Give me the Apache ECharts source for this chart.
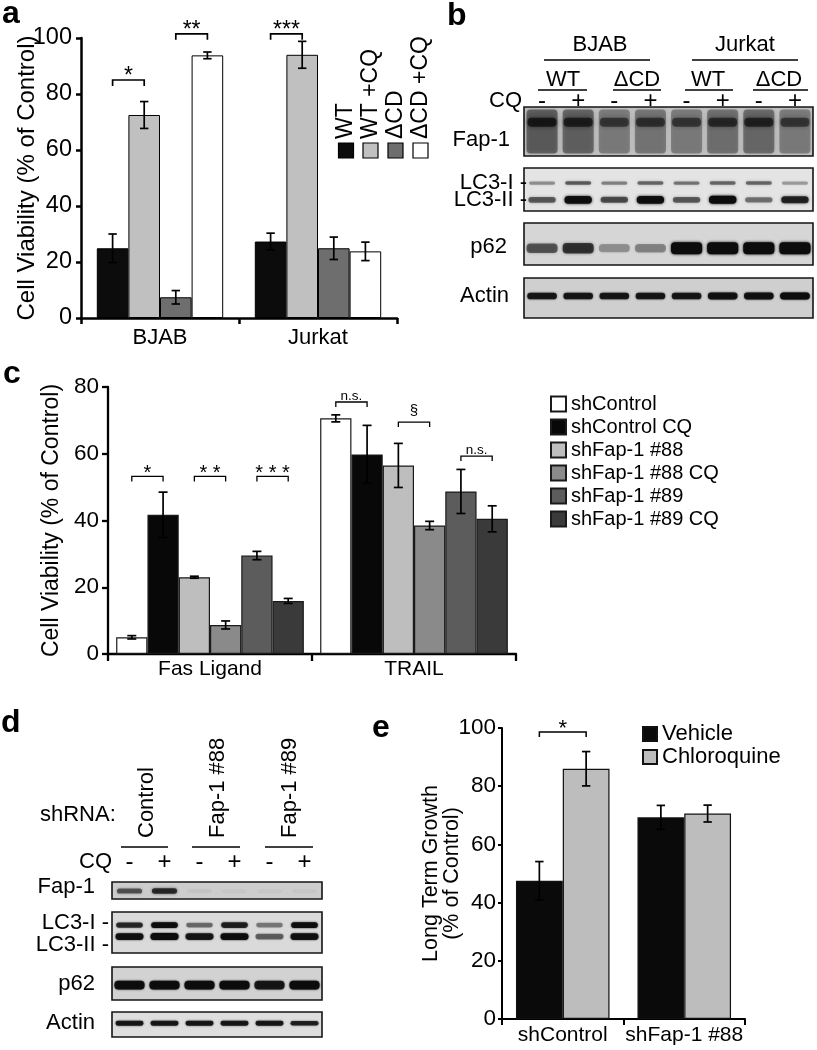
<!DOCTYPE html>
<html><head><meta charset="utf-8">
<script src="https://cdn.jsdelivr.net/npm/echarts@6/dist/echarts.min.js"></script>
<style>html,body{margin:0;padding:0;background:#fff}#c{width:817px;height:1050px}</style>
</head><body><div id="c"></div>
<script>
// ---------------- DATA ----------------
// Panel a
const aCategories = ['BJAB', 'Jurkat'];
const aNames = ['WT', 'WT +CQ', 'ΔCD', 'ΔCD +CQ'];
const aWT = [24.9, 27.3];
const aWTCQ = [72.5, 94.0];
const aDCD = [7.4, 24.9];
const aDCDCQ = [93.8, 23.8];
const aWTErr = [5.1, 3.0];
const aWTCQErr = [4.8, 4.8];
const aDCDErr = [2.4, 4.0];
const aDCDCQErr = [1.2, 3.3];
const aTicks = [0, 20, 40, 60, 80, 100];
const aSig = [[0, 0, 1, 85, '*'], [0, 2, 3, 101.5, '**'], [1, 0, 1, 101.5, '***']];

// Panel b (western blot band intensities, 0..1)
const bLanes = ['-', '+', '-', '+', '-', '+', '-', '+'];
const bFap1 = [0.85, 0.8, 0.6, 0.65, 0.6, 0.7, 0.75, 0.6];
const bLC3I = [0.35, 0.55, 0.4, 0.5, 0.45, 0.5, 0.5, 0.3];
const bLC3II = [0.55, 0.95, 0.6, 0.95, 0.55, 1.0, 0.45, 0.8];
const bP62 = [0.55, 0.7, 0.3, 0.35, 1.0, 1.0, 1.0, 1.0];
const bActin = [0.85, 0.85, 0.85, 0.85, 0.85, 0.9, 0.9, 1.0];

// Panel c
const cCategories = ['Fas Ligand', 'TRAIL'];
const cNames = ['shControl', 'shControl CQ', 'shFap-1 #88', 'shFap-1 #88 CQ', 'shFap-1 #89', 'shFap-1 #89 CQ'];
const cShControl = [5.0, 70.6];
const cShControlCQ = [41.7, 59.8];
const cSh88 = [23.0, 56.5];
const cSh88CQ = [8.7, 38.5];
const cSh89 = [29.5, 48.7];
const cSh89CQ = [15.9, 40.5];
const cShControlErr = [0.5, 1.05];
const cShControlCQErr = [6.8, 8.7];
const cSh88Err = [0.3, 6.6];
const cSh88CQErr = [1.2, 1.25];
const cSh89Err = [1.25, 6.6];
const cSh89CQErr = [0.75, 3.9];
const cTicks = [0, 20, 40, 60, 80];
const cSig = [[0, 0, 1, 53.2, '*'], [0, 2, 3, 53.2, '* *'], [0, 4, 5, 53.2, '* * *'],
              [1, 0, 1, 75.5, 'n.s.'], [1, 2, 3, 69.5, '§'], [1, 4, 5, 59.3, 'n.s.']];

// Panel d (western blot band intensities, 0..1)
const dGroups = ['Control', 'Fap-1 #88', 'Fap-1 #89'];
const dLanes = ['-', '+', '-', '+', '-', '+'];
const dFap1 = [0.55, 0.75, 0.04, 0.03, 0.03, 0.03];
const dLC3I = [0.75, 0.95, 0.45, 0.8, 0.4, 0.95];
const dLC3II = [0.9, 1.0, 0.85, 0.95, 0.5, 0.9];
const dP62 = [0.95, 0.95, 0.95, 0.98, 0.85, 0.98];
const dActin = [0.85, 0.85, 0.85, 0.85, 0.85, 0.8];

// Panel e
const eCategories = ['shControl', 'shFap-1 #88'];
const eNames = ['Vehicle', 'Chloroquine'];
const eVehicle = [47.5, 69.3];
const eChloroquine = [86.0, 70.6];
const eVehicleErr = [6.6, 4.1];
const eChloroquineErr = [5.9, 2.9];
const eTicks = [0, 20, 40, 60, 80, 100];
const eSig = [[0, 0, 1, 98.6, '*']];

// ---------------- STYLE / HELPERS ----------------
const FONT = "'Liberation Sans', Arial, Helvetica, sans-serif";
const aColors = ['#0c0c0c', '#c0c0c0', '#6e6e6e', '#ffffff'];
const cColors = ['#ffffff', '#080808', '#bebebe', '#8a8a8a', '#5c5c5c', '#3a3a3a'];
const eColors = ['#0a0a0a', '#bdbdbd'];

function barOffset(api, k, sIdx, n, gap) {
  const band = api.size([1, 0])[0];
  const bw = band * (1 - gap) / n;
  return api.coord([k, 0])[0] + (sIdx - (n - 1) / 2) * bw;
}

function errSeries(gi, sIdx, n, gap, means, errs, lw, cap) {
  return {
    type: 'custom', xAxisIndex: gi, yAxisIndex: gi, z: 6, silent: true, clip: false,
    data: means.map((m, k) => [k, m - errs[k], m + errs[k]]),
    encode: { x: 0, y: [1, 2] },
    renderItem(params, api) {
      const k = api.value(0);
      const cx = barOffset(api, k, sIdx, n, gap);
      const yl = api.coord([k, api.value(1)])[1];
      const yh = api.coord([k, api.value(2)])[1];
      const st = { stroke: '#000', lineWidth: lw };
      return { type: 'group', children: [
        { type: 'line', shape: { x1: cx, y1: yl, x2: cx, y2: yh }, style: st },
        { type: 'line', shape: { x1: cx - cap, y1: yh, x2: cx + cap, y2: yh }, style: st },
        { type: 'line', shape: { x1: cx - cap, y1: yl, x2: cx + cap, y2: yl }, style: st }
      ] };
    }
  };
}

function sigSeries(gi, n, gap, sigs, fs, leg, lw) {
  return {
    type: 'custom', xAxisIndex: gi, yAxisIndex: gi, z: 6, silent: true, clip: false,
    data: sigs.map(s => [s[0], s[1], s[2], s[3]]),
    encode: { x: 0, y: 3 },
    renderItem(params, api) {
      const s = sigs[params.dataIndex];
      const k = api.value(0);
      const x1 = barOffset(api, k, api.value(1), n, gap);
      const x2 = barOffset(api, k, api.value(2), n, gap);
      const y = api.coord([k, api.value(3)])[1];
      const lbl = s[4];
      let size = fs, ty;
      if (lbl.indexOf('*') >= 0) { ty = y + 0.35 * fs; }
      else if (lbl === 'n.s.') { size = 13.5; ty = y + 1; }
      else { size = 15; ty = y - 4; }
      return { type: 'group', children: [
        { type: 'polyline', shape: { points: [[x1, y + leg], [x1, y], [x2, y], [x2, y + leg]] },
          style: { stroke: '#000', lineWidth: lw, fill: null } },
        { type: 'text', x: (x1 + x2) / 2, y: ty,
          style: { text: lbl, fontSize: size, fontFamily: FONT, fill: '#000', align: 'center', verticalAlign: 'bottom' } }
      ] };
    }
  };
}

function bandSeries(gi, values, yFrac, thick, wFrac, grow, alphaScale, blur) {
  return {
    type: 'custom', xAxisIndex: gi, yAxisIndex: gi, z: 3, silent: true, clip: true,
    data: values.map((v, k) => [k, v]),
    encode: { x: 0 },
    renderItem(params, api) {
      const k = api.value(0), v = api.value(1);
      const p = api.coord([k, yFrac]);
      const bw = api.size([1, 0])[0] * wFrac;
      const h = thick * (1 - grow + grow * v);
      const a = Math.min(1, v * alphaScale);
      return { type: 'rect', shape: { x: p[0] - bw / 2, y: p[1] - h / 2, width: bw, height: h, r: Math.min(h / 2, 4) },
        style: { fill: 'rgba(12,12,12,' + a + ')', shadowBlur: blur, shadowColor: 'rgba(12,12,12,' + a + ')' } };
    }
  };
}

function axisStyle(w) { return { show: true, lineStyle: { color: '#000', width: w } }; }

const grids = [], xAxes = [], yAxes = [], series = [];

// ---- Panel a (grid 0)
grids.push({ left: 81, top: 38, width: 316, height: 280 });
xAxes.push({ gridIndex: 0, type: 'category', data: aCategories, axisLine: axisStyle(2.5),
  axisTick: { show: true, length: 6, lineStyle: { color: '#000', width: 2.5 } },
  axisLabel: { color: '#000', fontSize: 22, margin: 9, interval: 0, fontFamily: FONT } });
yAxes.push({ gridIndex: 0, type: 'value', min: aTicks[0], max: aTicks[aTicks.length - 1], interval: aTicks[1] - aTicks[0],
  axisLine: axisStyle(2.5), axisTick: { show: true, length: 5, lineStyle: { color: '#000', width: 2.5 } },
  splitLine: { show: false }, axisLabel: { color: '#000', fontSize: 23.5, margin: 9, fontFamily: FONT },
  name: 'Cell Viability (% of Control)', nameLocation: 'middle', nameGap: 42, nameMoveOverlap: false,
  nameTextStyle: { color: '#000', fontSize: 24, fontFamily: FONT } });
const aVals = [aWT, aWTCQ, aDCD, aDCDCQ];
const aErrs = [aWTErr, aWTCQErr, aDCDErr, aDCDCQErr];
aVals.forEach((vals, i) => {
  series.push({ type: 'bar', name: aNames[i], xAxisIndex: 0, yAxisIndex: 0, data: vals,
    barGap: '0%', barCategoryGap: '20%', silent: true,
    itemStyle: { color: aColors[i], borderColor: '#000', borderWidth: 1 } });
  series.push(errSeries(0, i, 4, 0.2, vals, aErrs[i], 1.7, 4.2));
});
series.push(sigSeries(0, 4, 0.2, aSig, 23, 6, 1.7));

// ---- Panel c (grid 1)
grids.push({ left: 108, top: 387, width: 408, height: 267 });
xAxes.push({ gridIndex: 1, type: 'category', data: cCategories, axisLine: axisStyle(2.3),
  axisTick: { show: true, length: 7, lineStyle: { color: '#000', width: 2.3 } },
  axisLabel: { color: '#000', fontSize: 21, margin: 5, interval: 0, fontFamily: FONT } });
yAxes.push({ gridIndex: 1, type: 'value', min: cTicks[0], max: cTicks[cTicks.length - 1], interval: cTicks[1] - cTicks[0],
  axisLine: axisStyle(2.3), axisTick: { show: true, length: 6, lineStyle: { color: '#000', width: 2.3 } },
  splitLine: { show: false }, axisLabel: { color: '#000', fontSize: 22.5, margin: 9, fontFamily: FONT },
  name: 'Cell Viability (% of Control)', nameLocation: 'middle', nameGap: 45, nameMoveOverlap: false,
  nameTextStyle: { color: '#000', fontSize: 23, fontFamily: FONT } });
const cVals = [cShControl, cShControlCQ, cSh88, cSh88CQ, cSh89, cSh89CQ];
const cErrs = [cShControlErr, cShControlCQErr, cSh88Err, cSh88CQErr, cSh89Err, cSh89CQErr];
cVals.forEach((vals, i) => {
  series.push({ type: 'bar', name: cNames[i], xAxisIndex: 1, yAxisIndex: 1, data: vals,
    barGap: '0%', barCategoryGap: '8%', silent: true,
    itemStyle: { color: cColors[i], borderColor: '#1a1a1a', borderWidth: 1.2 } });
  series.push(errSeries(1, i, 6, 0.08, vals, cErrs[i], 1.7, 4.5));
});
series.push(sigSeries(1, 6, 0.08, cSig, 20, 5, 1.3));

// ---- Panel e (grid 2)
grids.push({ left: 502, top: 728, width: 243, height: 291 });
xAxes.push({ gridIndex: 2, type: 'category', data: eCategories, axisLine: axisStyle(2),
  axisTick: { show: true, length: 6, lineStyle: { color: '#000', width: 2 } },
  axisLabel: { color: '#000', fontSize: 21, margin: 6, interval: 0, hideOverlap: false, fontFamily: FONT } });
yAxes.push({ gridIndex: 2, type: 'value', min: eTicks[0], max: eTicks[eTicks.length - 1], interval: eTicks[1] - eTicks[0],
  axisLine: axisStyle(2), axisTick: { show: true, length: 4, lineStyle: { color: '#000', width: 2 } },
  splitLine: { show: false }, axisLabel: { color: '#000', fontSize: 22.5, margin: 6, fontFamily: FONT },
  name: 'Long Term Growth\n(% of Control)', nameLocation: 'middle', nameGap: 39, nameMoveOverlap: false,
  nameTextStyle: { color: '#000', fontSize: 21.5, lineHeight: 21, fontFamily: FONT } });
const eVals = [eVehicle, eChloroquine];
const eErrs = [eVehicleErr, eChloroquineErr];
eVals.forEach((vals, i) => {
  series.push({ type: 'bar', name: eNames[i], xAxisIndex: 2, yAxisIndex: 2, data: vals,
    barGap: '0%', barCategoryGap: '23%', silent: true,
    itemStyle: { color: eColors[i], borderColor: '#111', borderWidth: 1.2 } });
  series.push(errSeries(2, i, 2, 0.23, vals, eErrs[i], 1.7, 4.2));
});
series.push(sigSeries(2, 2, 0.23, eSig, 22, 5, 1.5));

// ---- Blots
function addBlot(left, top, width, height, bg, lanes, topLabels, labelMargin) {
  const gi = grids.length;
  grids.push({ left, top, width, height, show: true, backgroundColor: bg, borderColor: '#151515', borderWidth: 1.6 });
  xAxes.push({ gridIndex: gi, type: 'category', data: lanes, position: 'top',
    axisLine: { show: false }, axisTick: { show: false },
    axisLabel: { show: !!topLabels, interval: 0, color: '#000', fontSize: 24, margin: labelMargin || 0, verticalAlign: 'middle', fontFamily: FONT } });
  yAxes.push({ gridIndex: gi, type: 'value', min: 0, max: 1, show: false });
  return gi;
}
// b
let g;
g = addBlot(524, 107, 289, 49, '#c2c2c2', bLanes, true, 6);
series.push(bandSeries(g, bFap1, 0.5, 44, 0.86, 0, 0.55, 4));
series.push(bandSeries(g, bFap1, 0.69, 9, 0.8, 0, 0.9, 4));
g = addBlot(524, 168, 289, 43, '#e4e4e4', bLanes, false);
series.push(bandSeries(g, bLC3I, 0.65, 4, 0.72, 0.3, 1, 3));
series.push(bandSeries(g, bLC3II, 0.26, 8, 0.76, 0.6, 1, 3));
g = addBlot(524, 223, 289, 42, '#d6d6d6', bLanes, false);
series.push(bandSeries(g, bP62, 0.40, 12, 0.86, 0.45, 1, 3));
g = addBlot(524, 278, 289, 40, '#cfcfcf', bLanes, false);
series.push(bandSeries(g, bActin, 0.55, 7, 0.82, 0.3, 1, 2));
// d
g = addBlot(112, 882, 210, 17, '#cdcdcd', dLanes, true, 20);
series.push(bandSeries(g, dFap1, 0.47, 6, 0.72, 0.3, 1, 3));
g = addBlot(112, 912, 210, 41, '#dadada', dLanes, false);
series.push(bandSeries(g, dLC3I, 0.68, 6, 0.76, 0.4, 1, 2));
series.push(bandSeries(g, dLC3II, 0.40, 7, 0.8, 0.4, 1, 2));
g = addBlot(112, 967, 210, 33, '#d2d2d2', dLanes, false);
series.push(bandSeries(g, dP62, 0.45, 9, 0.86, 0.3, 1, 2));
g = addBlot(112, 1012, 210, 25, '#dedede', dLanes, false);
series.push(bandSeries(g, dActin, 0.55, 5, 0.8, 0.3, 1, 2));

// ---------------- GRAPHIC TEXT ----------------
function T(text, x, y, size, align, extra) {
  return Object.assign({ type: 'text', x, y, silent: true,
    style: { text, fontSize: size, fontFamily: FONT, fill: '#000', align: align || 'left', verticalAlign: 'middle' } }, extra || {});
}
function L(x1, y1, x2, y2, w) {
  return { type: 'line', silent: true, shape: { x1, y1, x2, y2 }, style: { stroke: '#000', lineWidth: w || 1.5 } };
}
function bold(text, x, y) {
  const t = T(text, x, y, 32, 'left');
  t.style.fontWeight = 'bold';
  return t;
}
const graphics = [
  bold('a', 2, 14), bold('b', 447, 16), bold('c', 3, 374), bold('d', 1, 723), bold('e', 372, 728),
  // panel b header
  T('BJAB', 600, 45, 22, 'center'), T('Jurkat', 745, 45, 22, 'center'),
  L(544, 60, 650, 60), L(692, 60, 798, 60),
  T('WT', 563, 80, 22, 'center'), T('ΔCD', 637, 80, 22, 'center'),
  T('WT', 708, 80, 22, 'center'), T('ΔCD', 779, 80, 22, 'center'),
  L(538, 90, 587, 90), L(613, 90, 661, 90), L(685, 90, 733, 90), L(753, 90, 808, 90),
  T('CQ', 522, 101, 22, 'right'),
  T('Fap-1', 510, 140, 22, 'right'), T('LC3-I -', 527, 183, 22, 'right'), T('LC3-II -', 527, 200, 22, 'right'),
  T('p62', 507, 247, 22, 'right'), T('Actin', 509, 296, 22, 'right'),
  // panel d header
  T('shRNA:', 40, 815, 22, 'left'),
  T(dGroups[0], 147, 838, 22, 'left', { rotation: Math.PI / 2 }),
  T(dGroups[1], 218, 838, 22, 'left', { rotation: Math.PI / 2 }),
  T(dGroups[2], 290, 838, 22, 'left', { rotation: Math.PI / 2 }),
  L(121, 847, 168, 847), L(192, 847, 240, 847), L(265, 847, 313, 847),
  T('CQ', 112, 862, 22, 'right'),
  T('Fap-1', 95, 887, 22, 'right'), T('LC3-I -', 109, 923, 22, 'right'), T('LC3-II -', 109, 945, 22, 'right'),
  T('p62', 95, 984, 22, 'right'), T('Actin', 95, 1023, 22, 'right')
];
// rotated legend of panel a
const aLegendX = [346, 370.5, 395.5, 420.5];
aNames.forEach((nm, i) => {
  graphics.push({ type: 'rect', silent: true, shape: { x: aLegendX[i] - 7.5, y: 143, width: 15, height: 15 },
    style: { fill: aColors[i], stroke: '#000', lineWidth: 1.2 } });
  graphics.push(T(nm, aLegendX[i], 139, 23, 'left', { rotation: Math.PI / 2 }));
});

const option = {
  animation: false,
  textStyle: { fontFamily: FONT },
  grid: grids.map(gr => Object.assign({ outerBoundsMode: 'none', containLabel: false }, gr)),
  xAxis: xAxes,
  yAxis: yAxes,
  legend: [
    { data: cNames, orient: 'vertical', left: 550, top: 394, itemWidth: 15, itemHeight: 15, itemGap: 3,
      icon: 'rect', selectedMode: false, padding: 0,
      textStyle: { fontSize: 20, color: '#000', fontFamily: FONT } },
    { data: eNames, orient: 'vertical', left: 642, top: 723, itemWidth: 14, itemHeight: 14, itemGap: 1,
      icon: 'rect', selectedMode: false, padding: 0,
      textStyle: { fontSize: 22, color: '#000', fontFamily: FONT } }
  ],
  graphic: { elements: graphics },
  series
};
const chart = echarts.init(document.getElementById('c'), null, { renderer: 'canvas' });
chart.setOption(option);
</script></body></html>
